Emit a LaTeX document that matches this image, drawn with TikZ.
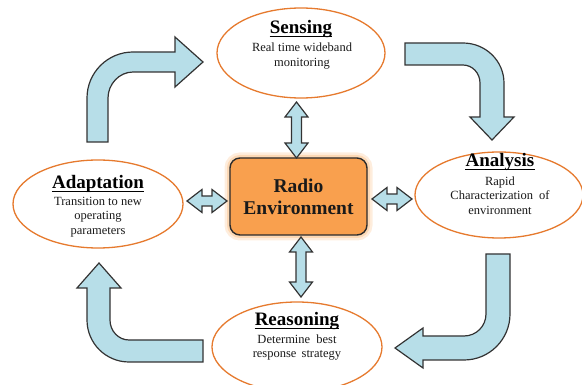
\documentclass[tikz,border=0pt]{standalone}
\usepackage{fontspec}
\setmainfont{Liberation Serif}
\usetikzlibrary{shapes.geometric,calc}
\definecolor{arrfill}{HTML}{B7DEE8}
\definecolor{arrline}{HTML}{333333}
\definecolor{ellline}{HTML}{E67A2E}
\definecolor{boxfill}{HTML}{F9A04E}
\definecolor{boxline}{HTML}{2B2B2B}
\definecolor{glowcol}{HTML}{FBC58F}
\definecolor{txt}{HTML}{1A1A1A}
\newcommand\dblarrow[2]{%
  \coordinate (da1) at ($(#1)!15pt!(#2)$);
  \coordinate (da2) at ($(#2)!15pt!(#1)$);
  \draw[blockarrow] (#1) -- ($(da1)!11.5pt!90:(#2)$) -- ($(da1)!5pt!90:(#2)$)
    -- ($(da2)!5pt!-90:(#1)$) -- ($(da2)!11.5pt!-90:(#1)$) -- (#2)
    -- ($(da2)!11.5pt!90:(#1)$) -- ($(da2)!5pt!90:(#1)$)
    -- ($(da1)!5pt!-90:(#2)$) -- ($(da1)!11.5pt!-90:(#2)$) -- cycle;}
\begin{document}
\begin{tikzpicture}[x=1pt,y=-1pt,
  blockarrow/.style={draw=arrline, fill=arrfill, line width=1.2pt},
  phase/.style={ellipse, draw=ellline, fill=white, line width=1.3pt, inner sep=0pt},
  titletext/.style={font=\fontsize{19}{22}\selectfont\bfseries, inner sep=0pt, anchor=base, text=black},
  bodytext/.style={font=\fontsize{12.5}{14.5}\selectfont, align=center, inner sep=0pt, anchor=north, text=txt},
  ul/.style={line width=1.3pt, black},
  radiobox/.style={rectangle, rounded corners=10pt, draw=boxline, fill=boxfill, line width=1.4pt,
    minimum width=137pt, minimum height=77pt, align=center, text=txt,
    font=\fontsize{19.5}{22}\selectfont\bfseries,
    preaction={draw=glowcol, line width=11pt, opacity=0.3},
    preaction={draw=glowcol, line width=6pt, opacity=0.5}}]
\useasboundingbox (0,0) rectangle (582,385);
\clip (0,0) rectangle (582,385);

% curved cycle arrows
\draw[blockarrow] (87,142) -- (87,98) .. controls (87,72.6) and (107.6,52) .. (133,52)
  -- (175,52) -- (175,37) -- (203,62) -- (175,87) -- (175,72) -- (133,72)
  .. controls (119.2,72) and (108,84.2) .. (108,98) -- (108,142) -- cycle;
\draw[blockarrow] (405,43) -- (463,43) .. controls (485.6,43) and (504,60.9) .. (504,83)
  -- (504,117) -- (514,117) -- (492,140) -- (470,117) -- (480,117) -- (480,83)
  .. controls (480,73.1) and (472.4,65) .. (463,65) -- (405,65) -- cycle;
\draw[blockarrow] (486,254) -- (510,254) -- (510,314) .. controls (510,339.4) and (489.4,360) .. (464,360)
  -- (423,360) -- (423,368) -- (395,348) -- (423,328) -- (423,336) -- (464,336)
  .. controls (476.2,336) and (486,326.2) .. (486,314) -- cycle;
\draw[blockarrow] (203,340) -- (129,340) .. controls (118.5,340) and (110,331) .. (110,320)
  -- (110,288) -- (121,288) -- (99,263) -- (77,288) -- (87,288) -- (87,320)
  .. controls (87,343.2) and (105.8,362) .. (129,362) -- (203,362) -- cycle;

% phase ellipses
\node[phase, minimum width=168pt, minimum height=90pt] (sense) at (301,53) {};
\node[phase, minimum width=168pt, minimum height=86pt] (anal) at (499,195) {};
\node[phase, minimum width=170pt, minimum height=88pt] (adapt) at (98,204) {};
\node[phase, minimum width=170pt, minimum height=90pt] (reason) at (297,347) {};

% central box
\node[radiobox] (radio) at (298.5,196.5) {Radio\\Environment};

% texts
\node[titletext] (senseT) at (301,34) {Sensing};
\node[bodytext] (senseB) at (302,43) {Real time wideband\\monitoring};
\node[titletext] (analT) at (500,167) {Analysis};
\node[bodytext] (analB) at (500,176.5) {Rapid\\Characterization\hspace{3pt} of\\environment};
\node[titletext] (adaptT) at (98,189) {Adaptation};
\node[bodytext] (adaptB) at (98,197) {Transition to new\\operating\\parameters};
\node[titletext] (reasonT) at (297,326) {Reasoning};
\node[bodytext] (reasonB) at (297,334.5) {Determine\hspace{3pt} best\\response\hspace{2pt} strategy};
\foreach \t in {senseT,analT,adaptT,reasonT}
  \draw[ul] ($(\t.base west)+(0,2.4)$) -- ($(\t.base east)+(0,2.4)$);

% double arrows between phases and environment
\coordinate (t1) at (296.5,102);
\coordinate (t2) at (296.5,158);
\coordinate (b1) at (301,237);
\coordinate (b2) at (301,297);
\coordinate (l1) at (187,201);
\coordinate (l2) at (227,201);
\coordinate (r1) at (372,199);
\coordinate (r2) at (412,199);
\dblarrow{t1}{t2}
\dblarrow{b1}{b2}
\dblarrow{l1}{l2}
\dblarrow{r1}{r2}
\end{tikzpicture}
\end{document}
